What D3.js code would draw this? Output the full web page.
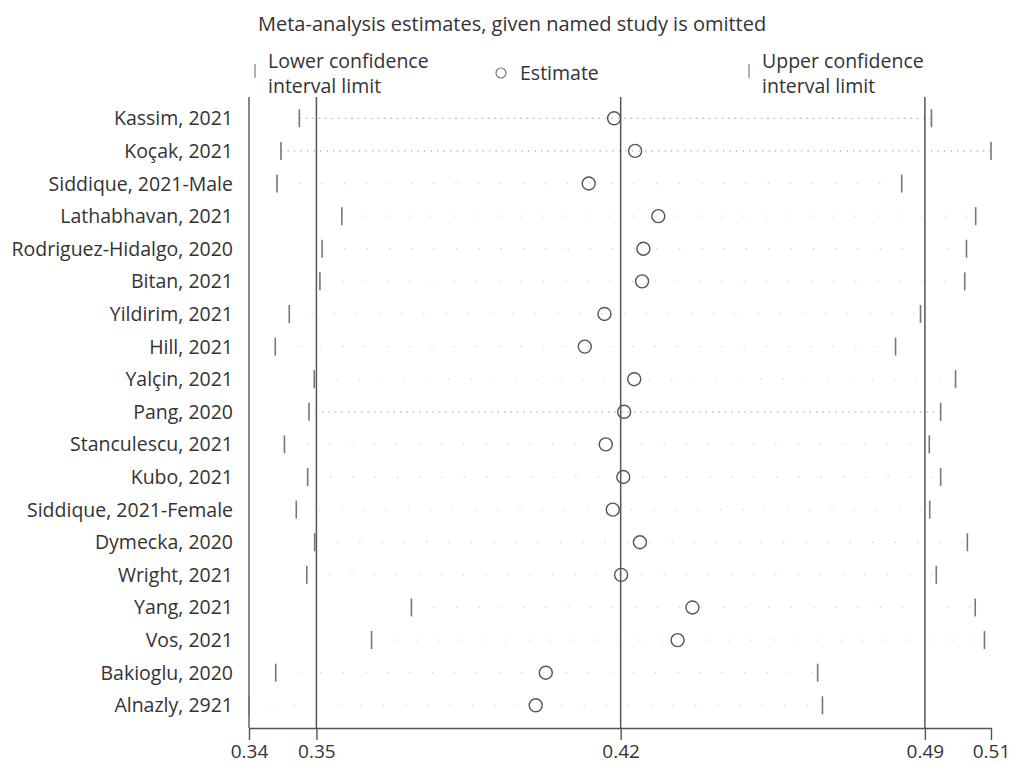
<!DOCTYPE html>
<html>
<head>
<meta charset="utf-8">
<script src="https://cdn.jsdelivr.net/npm/d3@7/dist/d3.min.js"></script>
<style>
  html, body { margin: 0; padding: 0; background: #fff; }
  text { font-family: "Open Sans", "DejaVu Sans", sans-serif; fill: #333; }
</style>
</head>
<body>
<svg id="chart" width="1010" height="765"></svg>
<script>
// ---- data ----
const studies = [
  "Kassim, 2021", "Koçak, 2021", "Siddique, 2021-Male", "Lathabhavan, 2021",
  "Rodriguez-Hidalgo, 2020", "Bitan, 2021", "Yildirim, 2021", "Hill, 2021",
  "Yalçin, 2021", "Pang, 2020", "Stanculescu, 2021", "Kubo, 2021",
  "Siddique, 2021-Female", "Dymecka, 2020", "Wright, 2021", "Yang, 2021",
  "Vos, 2021", "Bakioglu, 2020", "Alnazly, 2921"
];
const estimates = [0.4200, 0.4248, 0.4142, 0.4301, 0.4267, 0.4264, 0.4178, 0.4133,
  0.4246, 0.4223, 0.4181, 0.4221, 0.4197, 0.4259, 0.4216, 0.4379, 0.4345, 0.4044, 0.4021];
const lowerCI = [0.3481, 0.3439, 0.3430, 0.3578, 0.3533, 0.3528, 0.3458, 0.3426,
  0.3515, 0.3503, 0.3447, 0.3500, 0.3474, 0.3516, 0.3498, 0.3737, 0.3646, 0.3427, 0.3366];
const upperCI = [0.4925, 0.5061, 0.4857, 0.5026, 0.5005, 0.5001, 0.4900, 0.4843,
  0.4980, 0.4946, 0.4920, 0.4946, 0.4921, 0.5007, 0.4936, 0.5025, 0.5046, 0.4665, 0.4676];
// overall estimate and its confidence limits (reference lines)
const overall = [0.3520, 0.4215, 0.4910];
// axis ticks: min lower limit, overall CI and estimate, max upper limit
const tickValues = [0.3366, 0.3520, 0.4215, 0.4910, 0.5061];
const tickLabels = ["0.34", "0.35", "0.42", "0.49", "0.51"];
// rows whose dotted connector line is clearly visible
const visibleDotted = ["Kassim, 2021", "Koçak, 2021", "Pang, 2020"];

const title = "Meta-analysis estimates, given named study is omitted";

// ---- layout ----
const svg = d3.select("#chart");
svg.append("rect").attr("width", 1010).attr("height", 765).attr("fill", "#fff");

const plotTop = 97, plotBottom = 728;
const x = d3.scaleLinear().domain([tickValues[0], tickValues[tickValues.length - 1]]).range([249, 991]);
const y = d3.scalePoint().domain(studies).range([118.3, 705.3]);

const rows = studies.map((s, i) => ({ s, est: estimates[i], lo: lowerCI[i], hi: upperCI[i] }));

// title
svg.append("text").attr("x", 258).attr("y", 31).attr("font-size", 20).text(title);

// legend
const lg = svg.append("g");
const fs = 19.5;
lg.append("line").attr("x1", 255).attr("x2", 255).attr("y1", 64).attr("y2", 78)
  .attr("stroke", "#999").attr("stroke-width", 1.5);
lg.append("text").attr("x", 268).attr("y", 68).attr("font-size", fs).text("Lower confidence");
lg.append("text").attr("x", 268).attr("y", 93).attr("font-size", fs).text("interval limit");
lg.append("circle").attr("cx", 501).attr("cy", 73).attr("r", 5)
  .attr("fill", "none").attr("stroke", "#777").attr("stroke-width", 1.2);
lg.append("text").attr("x", 520).attr("y", 80).attr("font-size", fs).text("Estimate");
lg.append("line").attr("x1", 749).attr("x2", 749).attr("y1", 64).attr("y2", 78)
  .attr("stroke", "#999").attr("stroke-width", 1.5);
lg.append("text").attr("x", 762).attr("y", 68).attr("font-size", fs).text("Upper confidence");
lg.append("text").attr("x", 762).attr("y", 93).attr("font-size", fs).text("interval limit");

// dotted connectors
svg.append("g").selectAll("line").data(rows).join("line")
  .attr("x1", d => x(d.lo)).attr("x2", d => x(d.hi))
  .attr("y1", d => y(d.s)).attr("y2", d => y(d.s))
  .attr("stroke", d => visibleDotted.includes(d.s) ? "#aaa" : "#d4d4d4")
  .attr("stroke-width", 1.3)
  .attr("stroke-dasharray", d => visibleDotted.includes(d.s) ? "1.3,5.2" : "1.3,21");

// y-axis line
svg.append("line").attr("x1", x(tickValues[0])).attr("x2", x(tickValues[0]))
  .attr("y1", plotTop).attr("y2", plotBottom).attr("stroke", "#555").attr("stroke-width", 1.4);

// reference lines
svg.append("g").selectAll("line").data(overall).join("line")
  .attr("x1", d => x(d)).attr("x2", d => x(d))
  .attr("y1", plotTop).attr("y2", plotBottom)
  .attr("stroke", "#555").attr("stroke-width", 1.5);

// CI limit ticks
const ci = svg.append("g");
ci.selectAll("line.lo").data(rows).join("line").attr("class", "lo")
  .attr("x1", d => x(d.lo)).attr("x2", d => x(d.lo))
  .attr("y1", d => y(d.s) - 9).attr("y2", d => y(d.s) + 9)
  .attr("stroke", "#777").attr("stroke-width", 1.6);
ci.selectAll("line.hi").data(rows).join("line").attr("class", "hi")
  .attr("x1", d => x(d.hi)).attr("x2", d => x(d.hi))
  .attr("y1", d => y(d.s) - 9).attr("y2", d => y(d.s) + 9)
  .attr("stroke", "#777").attr("stroke-width", 1.6);

// estimates
svg.append("g").selectAll("circle").data(rows).join("circle")
  .attr("cx", d => x(d.est)).attr("cy", d => y(d.s)).attr("r", 6.5)
  .attr("fill", "none").attr("stroke", "#555").attr("stroke-width", 1.4);

// row labels
svg.append("g").selectAll("text").data(studies).join("text")
  .attr("x", 233).attr("y", d => y(d)).attr("dy", "0.36em")
  .attr("text-anchor", "end").attr("font-size", 19.5).text(d => d);

// x axis
const xAxis = d3.axisBottom(x).tickValues(tickValues)
  .tickFormat((d, i) => tickLabels[i]).tickSize(12).tickSizeOuter(0);
const ax = svg.append("g").attr("transform", `translate(0,${plotBottom})`).call(xAxis);
ax.select(".domain").attr("stroke", "#555").attr("stroke-width", 1.4);
ax.selectAll(".tick line").attr("stroke", "#555").attr("stroke-width", 1.4);
ax.selectAll(".tick text").attr("font-size", 19).attr("fill", "#333")
  .attr("font-family", "\"Open Sans\", sans-serif").attr("dy", "0").attr("y", 30);
</script>
</body>
</html>
